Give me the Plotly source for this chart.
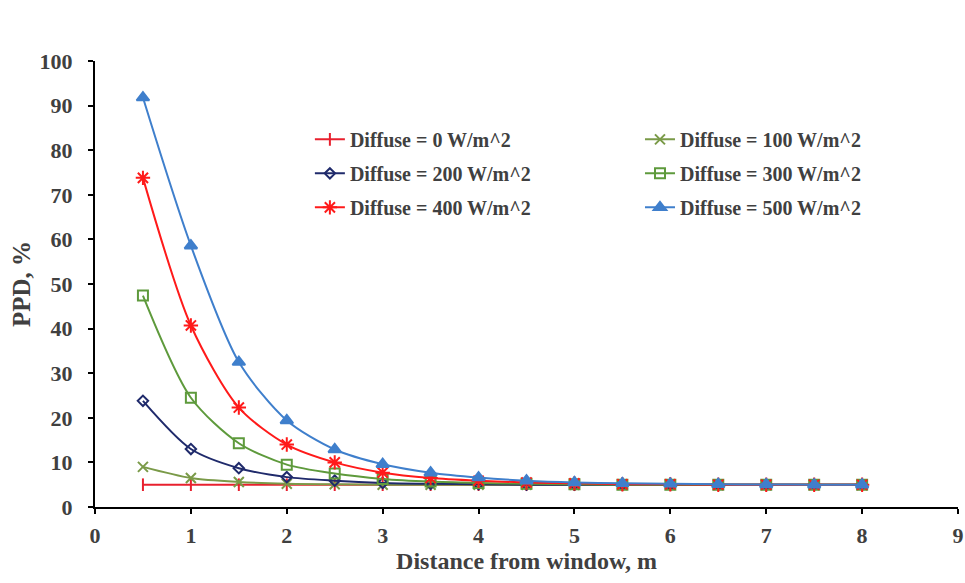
import plotly.graph_objects as go

distance = [0.5, 1.0, 1.5, 2.0, 2.5, 3.0, 3.5, 4.0, 4.5, 5.0, 5.5, 6.0, 6.5, 7.0, 7.5, 8.0]
ppd_0 = [5.0] * 16
ppd_100 = [9.0, 6.5, 5.6, 5.2, 5.1, 5.0, 5.0, 5.0, 5.0, 5.0, 5.0, 5.0, 5.0, 5.0, 5.0, 5.0]
ppd_200 = [23.8, 13.0, 8.7, 6.7, 5.9, 5.4, 5.2, 5.1, 5.0, 5.0, 5.0, 5.0, 5.0, 5.0, 5.0, 5.0]
ppd_300 = [47.4, 24.5, 14.3, 9.5, 7.5, 6.3, 5.7, 5.4, 5.2, 5.1, 5.0, 5.0, 5.0, 5.0, 5.0, 5.0]
ppd_400 = [73.8, 40.7, 22.3, 14.0, 10.0, 7.7, 6.5, 5.9, 5.5, 5.3, 5.1, 5.1, 5.0, 5.0, 5.0, 5.0]
ppd_500 = [91.8, 58.6, 32.5, 19.4, 12.9, 9.6, 7.7, 6.6, 5.9, 5.5, 5.3, 5.2, 5.1, 5.05, 5.0, 5.0]

names = ["Diffuse = 0 W/m^2", "Diffuse = 100 W/m^2", "Diffuse = 200 W/m^2",
         "Diffuse = 300 W/m^2", "Diffuse = 400 W/m^2", "Diffuse = 500 W/m^2"]
series = [ppd_0, ppd_100, ppd_200, ppd_300, ppd_400, ppd_500]
colors = ["#E8202E", "#7A9A48", "#1F2A6B", "#5E9A3C", "#FF1A1A", "#3F7FCC"]
symbols = ["line-ns-open", "x-thin-open", "diamond-open", "square-open", "asterisk-open", "triangle-up"]
sizes = [9, 10, 8, 10, 12, 11]
legends = ["legend", "legend2", "legend", "legend2", "legend", "legend2"]

FONT = "Liberation Serif"
TXT = "#404040"

fig = go.Figure()
for i in range(6):
    fig.add_trace(go.Scatter(
        x=distance, y=series[i], name=names[i], mode="lines+markers",
        line=dict(color=colors[i], width=2, shape="spline", smoothing=0.8),
        marker=dict(symbol=symbols[i], size=sizes[i], color=colors[i],
                    line=dict(color=colors[i], width=2)),
        legend=legends[i], legendgroup=names[i],
    ))

leg_common = dict(font=dict(family=FONT, size=20, color=TXT, weight="bold"),
                  bgcolor="rgba(0,0,0,0)", tracegroupgap=5,
                  xanchor="left", yanchor="top", itemwidth=30)

fig.update_layout(
    width=965, height=583,
    margin=dict(l=95, r=7, t=61, b=76),
    paper_bgcolor="white", plot_bgcolor="white",
    font=dict(family=FONT, size=20, color=TXT),
    legend=dict(x=0.249, y=0.868, **leg_common),
    legend2=dict(x=0.6315, y=0.868, **leg_common),
    xaxis=dict(
        range=[0, 9], tickmode="linear", tick0=0, dtick=1, automargin=False,
        showgrid=False, zeroline=False, showline=True, linecolor="black", linewidth=2,
        ticks="outside", ticklen=5, tickwidth=2, tickcolor="black", ticklabelstandoff=3,
        tickfont=dict(family=FONT, size=22, color=TXT, weight="bold"),
        title=dict(text="<b>Distance from window, m</b>", font=dict(family=FONT, size=24, color=TXT), standoff=2),
    ),
    yaxis=dict(
        range=[0, 100], tickmode="linear", tick0=0, dtick=10, automargin=False,
        showgrid=False, zeroline=False, showline=True, linecolor="black", linewidth=2,
        ticks="outside", ticklen=5, tickwidth=2, tickcolor="black", ticklabelstandoff=11,
        tickfont=dict(family=FONT, size=22, color=TXT, weight="bold"),
        title=dict(text="<b>PPD, %</b>", font=dict(family=FONT, size=25, color=TXT), standoff=2),
    ),
)

fig.write_html("out.html", config={"displayModeBar": False},
               post_script="document.body.style.margin='0';document.body.style.overflow='hidden';")
